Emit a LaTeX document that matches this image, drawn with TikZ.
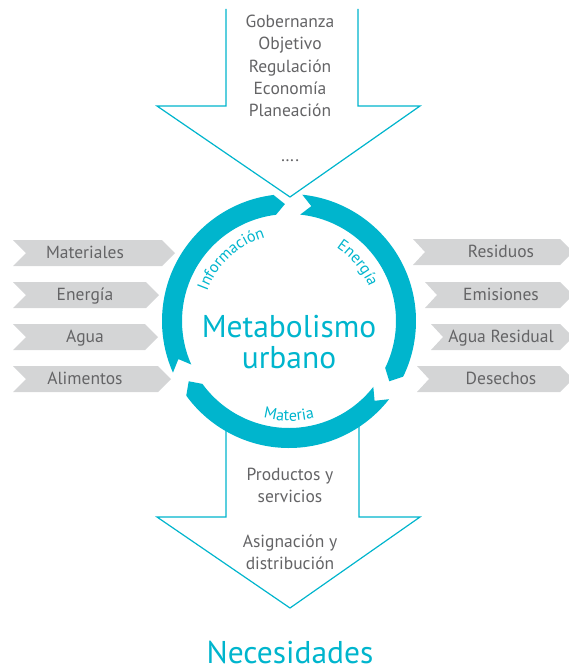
\documentclass[tikz,border=0pt]{standalone}
\usepackage{fontspec}
\setmainfont{PT Sans}
\usetikzlibrary{decorations.text}

\definecolor{ringcol}{RGB}{0,181,205}
\definecolor{chevgray}{RGB}{212,213,214}
\definecolor{labelgray}{RGB}{100,100,102}

\newcommand\labfont{\fontsize{17.5}{21}\selectfont}
\newcommand\arcfont{\fontsize{16}{16}\selectfont\color{ringcol}}
\newcommand\bigfont{\fontsize{31.5}{31.5}\selectfont}

% one curved chevron of the cycle: tail angle, head-corner angle, tip angle
\newcommand\ringseg[3]{%
  \fill[ringcol] (#1:127) arc[start angle=#1, end angle=#2, radius=127]
    -- (#3:117) -- (#2:107) arc[start angle=#2, end angle=#1, radius=107]
    -- ({#1-5}:117) -- cycle;}

\begin{document}
\begin{tikzpicture}[x=1pt,y=-1pt,
  flowline/.style={draw=ringcol, line width=1.2pt, fill=white, line join=miter},
  chev/.style={fill=chevgray, draw=none},
  lbl/.style={text=labelgray, font=\labfont, inner sep=0pt, anchor=base},
  bigtxt/.style={text=ringcol, font=\bigfont, inner sep=0pt, anchor=base,
    text depth=0pt}]
\useasboundingbox (0,0) rectangle (569,669);

% inflows on the left
\foreach \yc/\tx in {253/175, 295/159, 337/158, 379/171}
  \path[chev] (13,\yc-13) -- (\tx-13,\yc-13) -- (\tx,\yc) -- (\tx-13,\yc+13)
    -- (13,\yc+13) -- (26,\yc) -- cycle;
% outflows on the right
\foreach \yc/\lx in {252/413, 295/425, 337/431, 379/417}
  \path[chev] (\lx,\yc-13) -- (560,\yc-13) -- (573,\yc) -- (560,\yc+13)
    -- (\lx,\yc+13) -- (\lx+12,\yc) -- cycle;

\node[lbl] (inMat) at (85,258) {Materiales};
\node[lbl] (inEne) at (85,300) {Energía};
\node[lbl] (inAgu) at (85,342) {Agua};
\node[lbl] (inAli) at (85,384) {Alimentos};
\node[lbl] (outRes) at (501,257) {Residuos};
\node[lbl] (outEmi) at (501,300) {Emisiones};
\node[lbl] (outAgu) at (501,342) {Agua Residual};
\node[lbl] (outDes) at (501,384) {Desechos};

% governing inputs from above
\draw[flowline] (226,9) -- (226,106) -- (157,106) -- (290,197) -- (420,106)
  -- (358,106) -- (358,9);
% products leaving below
\draw[flowline] (226,420) -- (226,517) -- (157,517) -- (290,608) -- (420,517)
  -- (359,517) -- (359,420);

\node[lbl] (gob) at (290,28) {Gobernanza};
\node[lbl] (obj) at (290,50) {Objetivo};
\node[lbl] (reg) at (290,72) {Regulación};
\node[lbl] (eco) at (290,94) {Economía};
\node[lbl] (pla) at (290,116) {Planeación};
\node[lbl] (dots) at (290,161) {….};

\node[lbl] (prod) at (290,480) {Productos y};
\node[lbl] (serv) at (290,502) {servicios};
\node[lbl] (asig) at (290,547) {Asignación y};
\node[lbl] (dist) at (290,569) {distribución};

% the metabolic cycle
\begin{scope}[shift={(289,321)}, y=1pt]
  \ringseg{204}{97}{92}
  \ringseg{84}{-26}{-31}
  \ringseg{-38}{-144}{-149}
  \path[decorate, decoration={text along path, text align=center,
      text={|\arcfont|Información}}]
    (178:87) arc[start angle=178, end angle=88, radius=87];
  \path[decorate, decoration={text along path, text align=center,
      text={|\arcfont|Energía}}]
    (80:87) arc[start angle=80, end angle=0, radius=87];
  \path[decorate, decoration={text along path, text align=center,
      text={|\arcfont|Materia}}]
    (235:100) arc[start angle=235, end angle=305, radius=100];
\end{scope}

\node[bigtxt] (meta) at (289,337) {Metabolismo};
\node[bigtxt] (urb) at (289,368) {urbano};
\node[bigtxt] (nec) at (290,663) {Necesidades};
\end{tikzpicture}
\end{document}
